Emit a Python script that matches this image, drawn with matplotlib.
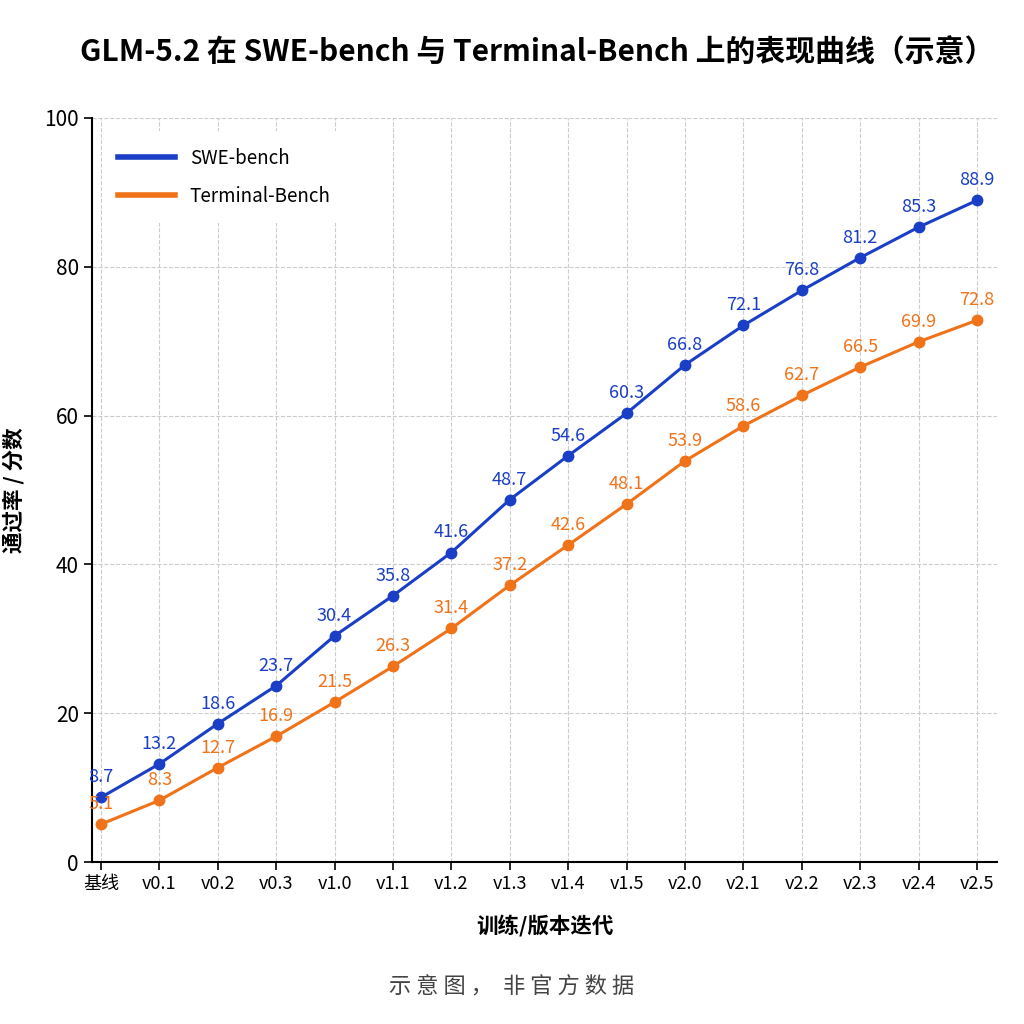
import matplotlib
matplotlib.use("Agg")
import matplotlib.pyplot as plt

plt.rcParams['font.family'] = ['Noto Sans CJK SC', 'DejaVu Sans']

# data
versions = ["基线", "v0.1", "v0.2", "v0.3", "v1.0", "v1.1", "v1.2", "v1.3",
            "v1.4", "v1.5", "v2.0", "v2.1", "v2.2", "v2.3", "v2.4", "v2.5"]
swe_bench = [8.7, 13.2, 18.6, 23.7, 30.4, 35.8, 41.6, 48.7,
             54.6, 60.3, 66.8, 72.1, 76.8, 81.2, 85.3, 88.9]
terminal_bench = [5.1, 8.3, 12.7, 16.9, 21.5, 26.3, 31.4, 37.2,
                  42.6, 48.1, 53.9, 58.6, 62.7, 66.5, 69.9, 72.8]
y_ticks = [0, 20, 40, 60, 80, 100]

blue = "#1a3fc6"
orange = "#f07219"

fig = plt.figure(figsize=(10.24, 10.24), dpi=100)
ax = fig.add_axes([0.09, 0.158, 0.884, 0.727])

x = list(range(len(versions)))
ax.plot(x, swe_bench, color=blue, lw=2.2, marker="o", ms=7.5, label="SWE-bench", zorder=3)
ax.plot(x, terminal_bench, color=orange, lw=2.2, marker="o", ms=7.5, label="Terminal-Bench", zorder=3)

for xi, v in zip(x, swe_bench):
    ax.annotate(f"{v:.1f}", (xi, v), xytext=(0, 8), textcoords="offset points",
                ha="center", va="bottom", color=blue, fontsize=13)
for xi, v in zip(x, terminal_bench):
    ax.annotate(f"{v:.1f}", (xi, v), xytext=(0, 8), textcoords="offset points",
                ha="center", va="bottom", color=orange, fontsize=13)

ax.set_xlim(-0.15, 15.35)
ax.set_ylim(0, 100)
ax.set_xticks(x)
ax.set_xticklabels(versions, fontsize=13)
ax.set_yticks(y_ticks)
ax.tick_params(axis="y", labelsize=15, length=6, width=1.2)
ax.tick_params(axis="x", length=6, width=1.2)

ax.grid(True, linestyle="--", color="#cccccc", lw=0.8)
ax.set_axisbelow(True)
for side in ["top", "right"]:
    ax.spines[side].set_visible(False)
ax.spines["left"].set_linewidth(1.5)
ax.spines["bottom"].set_linewidth(1.5)

ax.set_xlabel("训练/版本迭代", fontsize=15.5, fontweight="bold", labelpad=16)
ax.set_ylabel("通过率 / 分数", fontsize=15.5, fontweight="bold", labelpad=14)

leg = ax.legend(loc="upper left", frameon=True, fontsize=13.5, handlelength=3,
                borderpad=0.9, labelspacing=0.9, bbox_to_anchor=(0.0, 0.995))
leg.get_frame().set_edgecolor("none")
leg.get_frame().set_facecolor("white")
leg.get_frame().set_alpha(1)
for line in leg.get_lines():
    line.set_linewidth(4)
    line.set_marker("")

fig.text(0.525, 0.949, "GLM-5.2 在 SWE-bench 与 Terminal-Bench 上的表现曲线（示意）",
         ha="center", va="center", fontsize=21.5, fontweight="bold")
fig.text(0.5, 0.036, "示 意 图 ，  非 官 方 数 据", ha="center", va="center",
         fontsize=16, color="#444444")

fig.savefig("out.png", dpi=100, facecolor="white")
